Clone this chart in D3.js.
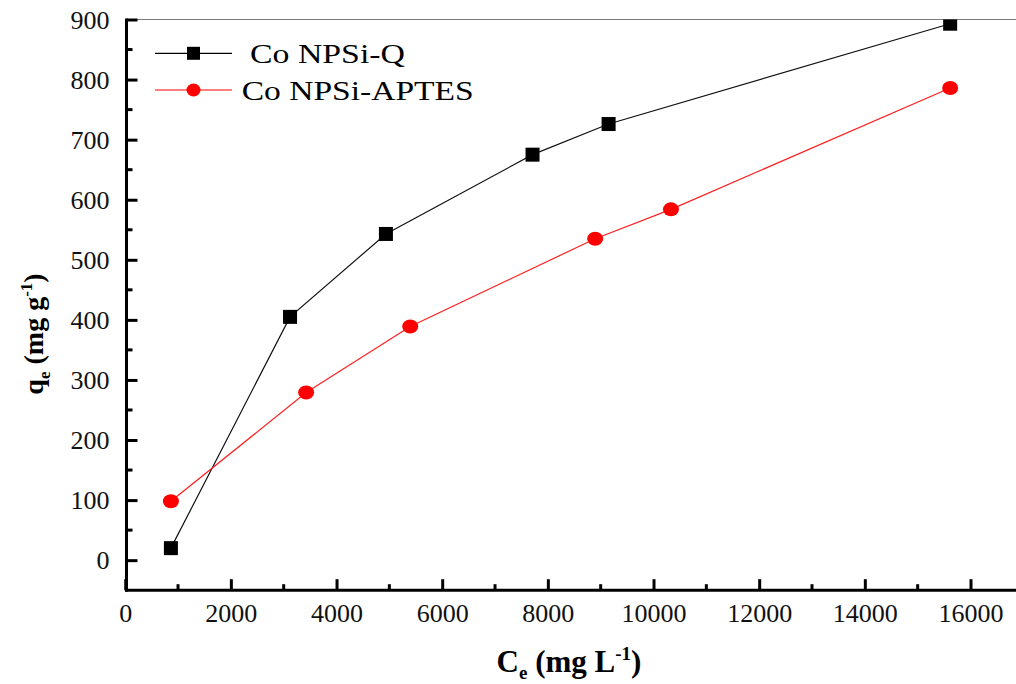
<!DOCTYPE html>
<html><head><meta charset="utf-8">
<script src="https://cdn.jsdelivr.net/npm/d3@7"></script>
<style>
html,body{margin:0;padding:0;background:#fff;}
</style></head>
<body><svg id="c" width="1016" height="684"></svg>
<script>
// Data
const seriesNames = ["Co NPSi-Q", "Co NPSi-APTES"];
const ceQ = [865, 3120, 4935, 7710, 9150, 15615];
const qeQ = [20, 405, 543, 675, 726, 893];
const ceA = [865, 3425, 5395, 8895, 10330, 15615];
const qeA = [98, 279, 389, 535, 584, 786];
const xTicks = [0, 2000, 4000, 6000, 8000, 10000, 12000, 14000, 16000];
const yTicks = [0, 100, 200, 300, 400, 500, 600, 700, 800, 900];

const svg = d3.select("#c");
const x = d3.scaleLinear().domain([0, 16000]).range([125.2, 970.5]);
const y = d3.scaleLinear().domain([-50, 900]).range([590.2, 19.5]);
const serif = "'Liberation Serif', 'Times New Roman', serif";

svg.append("defs").append("clipPath").attr("id","clip")
  .append("rect").attr("x",120).attr("y",y(900)).attr("width",900).attr("height",600);

// top frame line
svg.append("line").attr("x1",x(0)).attr("x2",1016).attr("y1",y(900)).attr("y2",y(900))
  .attr("stroke","#7a7a7a").attr("stroke-width",1.2);

// X axis (ticks inward)
const xAxis = d3.axisBottom(x).tickValues(xTicks).tickSize(-11).tickPadding(0).tickFormat(d3.format("d"));
const gx = svg.append("g").attr("transform",`translate(0,${y(-50)})`).call(xAxis);
gx.attr("font-family",null).attr("font-size",null);
gx.select(".domain").remove();
gx.selectAll(".tick line").attr("stroke","#000").attr("stroke-width",3);
gx.selectAll(".tick text").style("font-size","26px").style("font-family",serif).attr("fill","#111")
  .attr("y",32).attr("dy",0);
const xMinor = d3.range(1000, 17000, 2000);
gx.selectAll(".minor").data(xMinor).enter().append("line")
  .attr("x1",d=>x(d)).attr("x2",d=>x(d)).attr("y1",0).attr("y2",-6)
  .attr("stroke","#000").attr("stroke-width",3);
svg.append("line").attr("x1",x(0)).attr("x2",1016).attr("y1",y(-50)).attr("y2",y(-50))
  .attr("stroke","#000").attr("stroke-width",3);

// Y axis
const yAxis = d3.axisLeft(y).tickValues(yTicks).tickSize(-11).tickPadding(0).tickFormat(d3.format("d"));
const gy = svg.append("g").attr("transform",`translate(${x(0)+1.3},0)`).call(yAxis);
gy.attr("font-family",null).attr("font-size",null);
gy.select(".domain").remove();
gy.selectAll(".tick line").attr("stroke","#000").attr("stroke-width",3);
gy.selectAll(".tick text").style("font-size","26px").style("font-family",serif).attr("fill","#111")
  .attr("x",-17).attr("dy","0.33em");
const yMinor = d3.range(-50, 900, 100).filter(d=>d>-50);
gy.selectAll(".minor").data(yMinor).enter().append("line")
  .attr("x1",0).attr("x2",6).attr("y1",d=>y(d)).attr("y2",d=>y(d))
  .attr("stroke","#000").attr("stroke-width",3);
svg.append("line").attr("x1",x(0)+1.3).attr("x2",x(0)+1.3).attr("y1",y(900)-1).attr("y2",y(-50)+1.5)
  .attr("stroke","#000").attr("stroke-width",3);

// series
const plot = svg.append("g").attr("clip-path","url(#clip)");
const line = d3.line().x(d=>x(d[0])).y(d=>y(d[1]));
const dQ = ceQ.map((c,i)=>[c,qeQ[i]]);
const dA = ceA.map((c,i)=>[c,qeA[i]]);
plot.append("path").datum(dQ).attr("d",line).attr("fill","none").attr("stroke","#111").attr("stroke-width",1.2);
plot.append("path").datum(dA).attr("d",line).attr("fill","none").attr("stroke","#ff2020").attr("stroke-width",1.2);
plot.selectAll(".sq").data(dQ).enter().append("rect")
  .attr("x",d=>x(d[0])-7).attr("y",d=>y(d[1])-7).attr("width",14).attr("height",14).attr("fill","#000");
plot.selectAll(".ci").data(dA).enter().append("ellipse")
  .attr("cx",d=>x(d[0])).attr("cy",d=>y(d[1])).attr("rx",8).attr("ry",7).attr("fill","#ff0000");

// legend
const leg = svg.append("g").style("font-family",serif);
leg.append("line").attr("x1",155).attr("x2",232).attr("y1",53.3).attr("y2",53.3).attr("stroke","#000").attr("stroke-width",1.2);
leg.append("rect").attr("x",193.5-6.5).attr("y",53.3-6.5).attr("width",13).attr("height",13).attr("fill","#000");
leg.append("line").attr("x1",155).attr("x2",232).attr("y1",90).attr("y2",90).attr("stroke","#ff0000").attr("stroke-width",1.2);
leg.append("ellipse").attr("cx",193.5).attr("cy",90).attr("rx",7).attr("ry",6.5).attr("fill","#ff0000");
leg.append("text").attr("x",250).attr("y",53.3+10).style("font-size","28px").attr("fill","#000")
  .attr("textLength",155).attr("lengthAdjust","spacingAndGlyphs").text(seriesNames[0]);
leg.append("text").attr("x",241.7).attr("y",90+10).style("font-size","28px").attr("fill","#000")
  .attr("textLength",232).attr("lengthAdjust","spacingAndGlyphs").text(seriesNames[1]);

// axis titles
const xt = svg.append("text").attr("x",569).attr("y",672).attr("text-anchor","middle")
  .style("font-family",serif).style("font-size","31px").style("font-weight","bold").attr("fill","#000");
xt.append("tspan").text("C");
xt.append("tspan").style("font-size","19px").attr("dy",7).text("e");
xt.append("tspan").attr("dy",-7).text(" (mg L");
xt.append("tspan").style("font-size","19px").attr("dy",-12).text("-1");
xt.append("tspan").attr("dy",12).text(")");

const yt = svg.append("text").attr("transform","translate(43,334) rotate(-90)").attr("text-anchor","middle")
  .style("font-family",serif).style("font-size","28px").style("font-weight","bold").attr("fill","#000");
yt.append("tspan").text("q");
yt.append("tspan").style("font-size","17px").attr("dy",7).text("e");
yt.append("tspan").attr("dy",-7).text(" (mg g");
yt.append("tspan").style("font-size","17px").attr("dy",-11).text("-1");
yt.append("tspan").attr("dy",11).text(")");
</script></body></html>
